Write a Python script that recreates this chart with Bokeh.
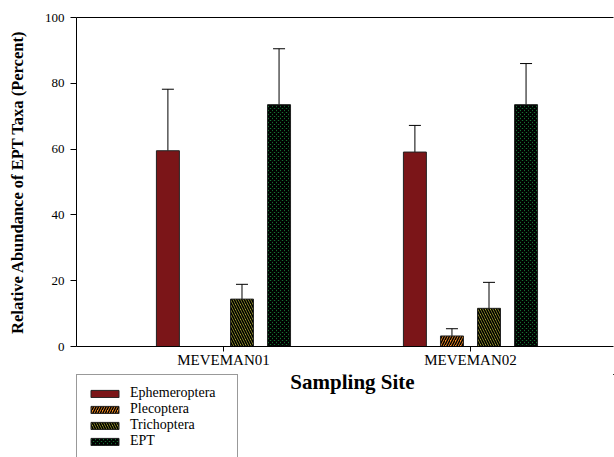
import numpy as np
from bokeh.plotting import figure
from bokeh.layouts import column
from bokeh.models import (ColumnDataSource, FixedTicker, LinearAxis, Legend,
                          LegendItem, Whisker, TeeHead, Range1d, Label)
from bokeh.embed import file_html
from bokeh.resources import INLINE

# Mean relative abundance (%) and upper error per site
sites = ["MEVEMAN01", "MEVEMAN02"]
taxa = ["Ephemeroptera", "Plecoptera", "Trichoptera", "EPT"]
ephemeroptera = [59.5, 59.1]
ephemeroptera_err = [18.7, 8.1]
plecoptera = [0.0, 3.2]
plecoptera_err = [0.0, 2.2]
trichoptera = [14.4, 11.6]
trichoptera_err = [4.5, 7.9]
ept = [73.5, 73.5]
ept_err = [17.0, 12.5]
y_ticks = [0, 20, 40, 60, 80, 100]

values = [ephemeroptera, plecoptera, trichoptera, ept]
errors = [ephemeroptera_err, plecoptera_err, trichoptera_err, ept_err]

SERIF = "Liberation Serif"
styles = [
    dict(fill_color="#7b1518"),
    dict(fill_color="#f28a22", hatch_pattern="right_diagonal_line",
         hatch_scale=5, hatch_weight=1.5, hatch_color="black"),
    dict(fill_color="#cccc3a", hatch_pattern="left_diagonal_line",
         hatch_scale=5, hatch_weight=1.7, hatch_color="black"),
    dict(fill_color="#1b8a3e", hatch_pattern="diagonal_cross",
         hatch_scale=4, hatch_weight=2, hatch_color="black"),
]

site_pos = np.arange(1, len(sites) + 1)
bar_w = 0.093
step = 0.15
offsets = (np.arange(len(taxa)) - 1.5) * step

# ---- main chart ----
p = figure(width=614, height=370,
           x_range=Range1d(0.405, 2.579), y_range=Range1d(0, 100),
           output_backend="svg", toolbar_location=None,
           min_border_left=76, min_border_right=1,
           min_border_top=17, min_border_bottom=23)
p.outline_line_color = None
p.grid.visible = False

sources = []
wx, wlo, whi = [], [], []
for i, name in enumerate(taxa):
    xs = site_pos + offsets[i]
    src = ColumnDataSource(dict(x=xs, top=values[i]))
    sources.append(src)
    p.vbar(x="x", top="top", width=bar_w, source=src,
           line_color="#222222", line_width=1, **styles[i])
    for x, v, e in zip(xs, values[i], errors[i]):
        if e > 0:
            wx.append(x)
            wlo.append(v)
            whi.append(v + e)

err_src = ColumnDataSource(dict(base=wx, lower=wlo, upper=whi))
p.add_layout(Whisker(base="base", lower="lower", upper="upper", source=err_src,
                     dimension="height", line_color="black", line_width=1,
                     lower_head=None,
                     upper_head=TeeHead(size=12, line_color="black", line_width=1)))

xa = p.xaxis[0]
xa.ticker = FixedTicker(ticks=list(site_pos))
xa.major_label_overrides = {int(k): s for k, s in zip(site_pos, sites)}
xa.major_tick_out = 5
xa.major_tick_in = 0
xa.minor_tick_line_color = None
xa.major_label_standoff = 0
xa.major_label_text_font = SERIF
xa.major_label_text_font_size = "15px"
xa.major_label_text_color = "black"
xa.axis_line_color = "black"

ya = p.yaxis[0]
ya.ticker = FixedTicker(ticks=y_ticks)
ya.major_tick_out = 6
ya.major_tick_in = 0
ya.minor_tick_line_color = None
ya.major_label_standoff = 6
ya.major_label_text_font = SERIF
ya.major_label_text_font_size = "13px"
ya.major_label_text_color = "black"
ya.axis_label = "Relative Abundance of EPT Taxa (Percent)"
ya.axis_label_text_font = SERIF
ya.axis_label_text_font_style = "bold"
ya.axis_label_text_font_size = "16.5px"
ya.axis_label_text_color = "black"
ya.axis_label_standoff = 15
ya.axis_line_color = "black"

# plain border line along the top of the plot area
top = LinearAxis(ticker=FixedTicker(ticks=[]), axis_line_color="black",
                 major_tick_line_color=None, minor_tick_line_color=None)
p.add_layout(top, "above")

# ---- strip under the chart: axis title and legend ----
# Its frame lines up with the chart's frame in the column layout.
q = figure(width=614, height=87, x_range=Range1d(-3, -2), y_range=Range1d(-2, -1),
           output_backend="svg", toolbar_location=None,
           x_axis_type=None, y_axis_type=None,
           min_border_left=76, min_border_right=1,
           min_border_top=4, min_border_bottom=0)
q.outline_line_color = None
q.grid.visible = False

# legend swatches share the bar data; the strip's ranges keep them out of view
swatches = [q.vbar(x="x", top="top", width=bar_w, source=sources[i],
                   line_color="#222222", line_width=1, **styles[i])
            for i in range(len(taxa))]
spacer = q.vbar(x="x", top="top", width=bar_w, source=sources[0],
                fill_alpha=0, line_alpha=0)

q.add_layout(Label(x=276, y=76, x_units="screen", y_units="screen",
                   text="Sampling Site", text_font=SERIF, text_font_style="bold",
                   text_font_size="21px", text_color="black",
                   text_align="center", text_baseline="alphabetic"))

items = [LegendItem(label=t, renderers=[r]) for t, r in zip(taxa, swatches)]
items.append(LegendItem(label=" ", renderers=[spacer]))
legend = Legend(items=items, location="top_left", padding=10, spacing=0,
                label_height=14, glyph_height=9, glyph_width=35,
                label_standoff=8, label_width=97, margin=0,
                label_text_font=SERIF, label_text_font_size="14px",
                label_text_color="black",
                border_line_color="#333333", border_line_width=1,
                background_fill_color="white", background_fill_alpha=1)
q.add_layout(legend, "center")

layout = column(p, q, spacing=0)
open("out.html", "w").write(file_html(layout, INLINE))
